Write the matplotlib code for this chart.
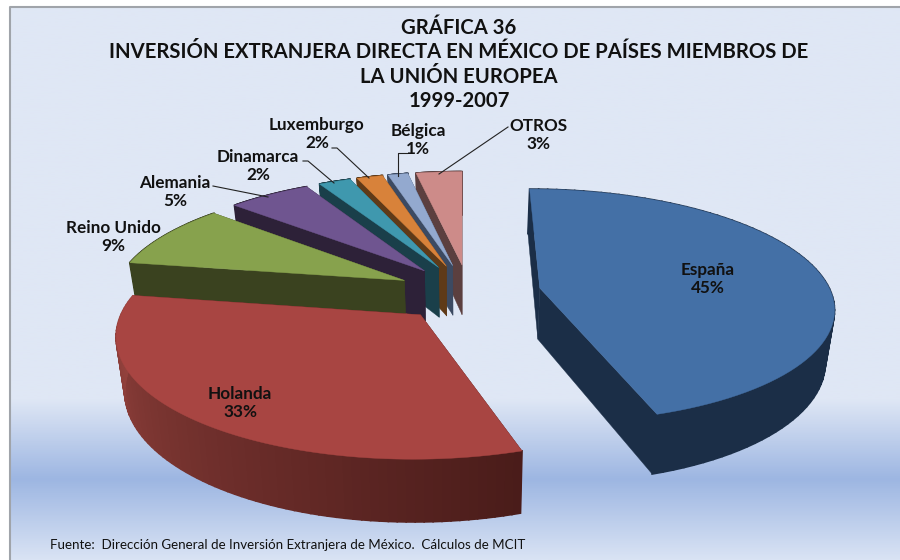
import matplotlib
matplotlib.use('Agg')
import matplotlib.pyplot as plt
import numpy as np
from matplotlib.colors import LinearSegmentedColormap, to_rgb
from matplotlib.patches import Polygon

countries = ['España', 'Holanda', 'Reino Unido', 'Alemania', 'Dinamarca', 'Luxemburgo', 'Bélgica', 'OTROS']
shares = [45.0, 32.6, 8.9, 5.4, 2.1, 1.7, 1.3, 3.0]

top_colors = ['#4470a6', '#a84542', '#87a24d', '#6f5590', '#3f98ae', '#d8823a', '#93a9cf', '#cd8b89']
wall_colors = ['#1b2e47', '#4a1c1a', '#3a421f', '#2d2138', '#1a3f4a', '#5f3a18', '#3c4a62', '#5b3f3f']
arc_end_colors = ['#1b2e47', '#9a4540', '#3a421f', '#2d2138', '#1a3f4a', '#5f3a18', '#3c4a62', '#5b3f3f']

# projection of the pie plane, in pixels of the 900x560 figure
VANISH_X = 462
HORIZON = -470
TOP_SCALE = 770
BOTTOM_SCALE = 822
BOTTOM_X = 0.975
DIST = 1928
RADIUS = 294
EXPLODE = 73
CENTER = (6.9, 19)


def project(x, y, bottom=False):
    t = 1 / (1 + np.asarray(y) / DIST)
    if bottom:
        return VANISH_X + BOTTOM_X * np.asarray(x) * t, HORIZON + BOTTOM_SCALE * t
    return VANISH_X + np.asarray(x) * t, HORIZON + TOP_SCALE * t


def face(ax, xs, ys, color, z, lw=0.3):
    ax.add_patch(Polygon(np.column_stack([xs, ys]), closed=True, fc=color, ec=color, lw=lw, zorder=z))


def draw_slice(ax, start, stop, top, wall, arc_end, z):
    mid = np.radians((start + stop) / 2)
    ax_x = CENTER[0] + EXPLODE * np.sin(mid)
    ax_y = CENTER[1] + EXPLODE * np.cos(mid)
    ang = np.radians(np.linspace(start, stop, 80))
    wx = ax_x + RADIUS * np.sin(ang)
    wy = ax_y + RADIUS * np.cos(ang)

    tx, ty = project(wx, wy)
    bx, by = project(wx, wy, bottom=True)
    apex_t = project(ax_x, ax_y)
    apex_b = project(ax_x, ax_y, bottom=True)

    # straight walls
    for i in (0, -1):
        face(ax, [apex_t[0], tx[i], bx[i], apex_b[0]], [apex_t[1], ty[i], by[i], apex_b[1]], wall, z)

    # outer wall, strip by strip so it can shade across
    c0 = np.array(to_rgb(wall))
    c1 = np.array(to_rgb(arc_end))
    for i in range(len(ang) - 1):
        col = c0 + (c1 - c0) * i / (len(ang) - 2)
        face(ax, [tx[i], tx[i + 1], bx[i + 1], bx[i]], [ty[i], ty[i + 1], by[i + 1], by[i]], col, z + 0.1, lw=1.2)

    face(ax, np.r_[apex_t[0], tx], np.r_[apex_t[1], ty], top, z + 0.2)


fig = plt.figure(figsize=(9, 5.6), dpi=100)
ax = fig.add_axes([0, 0, 1, 1])
ax.set_xlim(0, 900)
ax.set_ylim(560, 0)
ax.axis('off')
plt.rcParams['font.family'] = ['Lato', 'DejaVu Sans']

# chart area background
stops = [(0, '#dfe7f5'), (0.71, '#dfe7f5'), (0.855, '#9db6e2'), (1, '#d9e3f4')]
cmap = LinearSegmentedColormap.from_list('bg', stops)
ax.imshow(np.linspace(0, 1, 256)[:, None], extent=[10, 900, 560, 7], aspect='auto', cmap=cmap, zorder=0)
ax.set_xlim(0, 900)
ax.set_ylim(560, 0)
ax.plot([9.5, 9.5, 900], [560, 6.5, 6.5], color='#a0a4aa', lw=1.5, zorder=1)

# cumulative angles clockwise from the back of the pie
edges = np.r_[0, np.cumsum(shares)] * 3.6
order = [7, 6, 5, 4, 3, 2, 1, 0]
for n, i in enumerate(order):
    draw_slice(ax, edges[i], edges[i + 1], top_colors[i], wall_colors[i], arc_end_colors[i], 2 + n)

# leader lines
leaders = [
    ([213, 268], [186, 197]),
    ([303, 308, 334], [161, 161, 183]),
    ([332, 337, 369], [148, 148, 178]),
    ([407, 398, 398], [153, 153, 176]),
    ([439, 508], [174, 127]),
]
for lx, ly in leaders:
    ax.plot(lx, ly, color='#222222', lw=0.8, zorder=20)

label_pos = [(708, 279), (240, 403), (113, 237), (175, 192), (258, 166), (317, 134), (418, 140), (538, 135)]
for name, share, (px, py) in zip(countries, shares, label_pos):
    ax.text(px, py, f'{name}\n{share:.0f}%', ha='center', va='center', fontsize=12.3, fontweight='bold',
            color='#111111', linespacing=1.18, zorder=21)

title_lines = ['GRÁFICA 36', 'INVERSIÓN EXTRANJERA DIRECTA EN MÉXICO DE PAÍSES MIEMBROS DE',
               'LA UNIÓN EUROPEA', '1999-2007']
for line, y in zip(title_lines, [28, 52, 77, 101]):
    ax.text(459, y, line, ha='center', va='center', fontsize=14.6, fontweight='bold', color='#111111', zorder=21)

ax.text(50, 545, 'Fuente:  Dirección General de Inversión Extranjera de México.  Cálculos de MCIT',
        ha='left', va='center', fontsize=9.6, color='#111111', zorder=21)

fig.savefig('out.png', dpi=100)
